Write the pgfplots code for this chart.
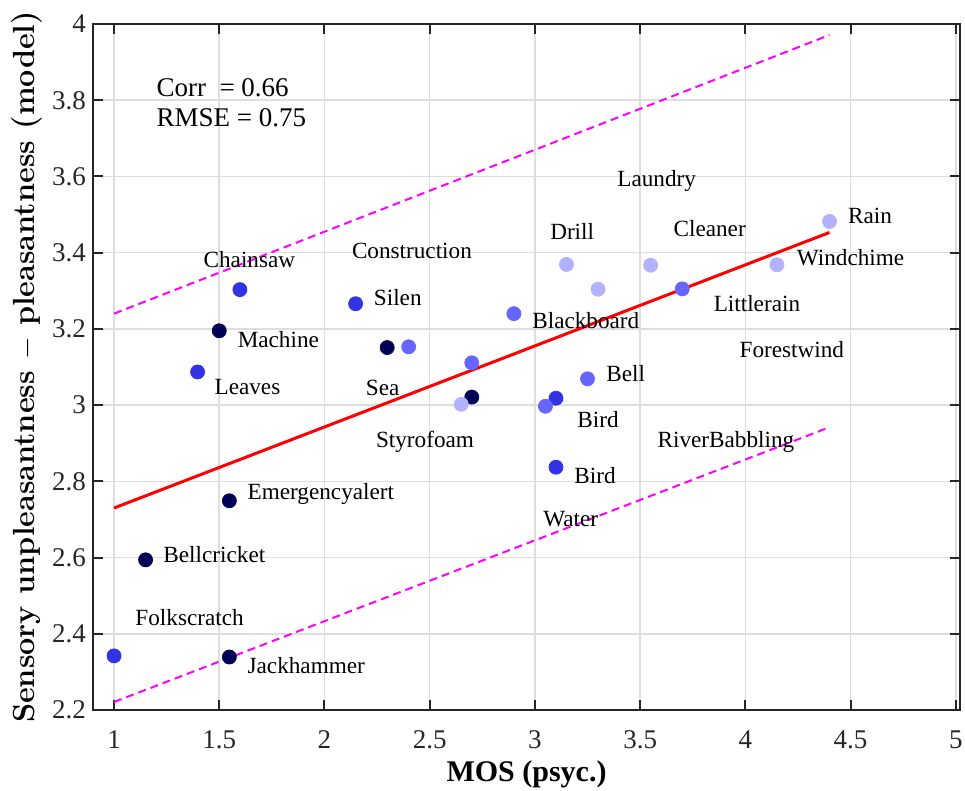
\documentclass[border=0pt]{standalone}
\usepackage{fontspec}
\setmainfont{Liberation Serif}
\newfontfamily\lmfont{Latin Modern Roman}
\usepackage{pgfplots}
\pgfplotsset{compat=1.18}
\definecolor{navy}{RGB}{0,0,85}
\definecolor{midblue}{RGB}{51,51,230}
\definecolor{ltblue}{RGB}{102,102,255}
\definecolor{paleblue}{RGB}{178,178,255}
\definecolor{gridgray}{RGB}{222,222,222}
\definecolor{axgray}{RGB}{38,38,38}
\definecolor{magentaRGB}{RGB}{255,0,255}
\tikzset{lbl/.style={anchor=west, font=\fontsize{11.6}{13}\selectfont, inner sep=0pt}}
\begin{document}
\begin{tikzpicture}
\useasboundingbox (-46.5pt,-40.5pt) rectangle (436pt,355pt);
\begin{axis}[
    at={(0,0)}, anchor=south west,
    scale only axis,
    width=433.5pt, height=343pt,
    xmin=0.9, xmax=5.02, ymin=2.2, ymax=4,
    xtick={1,1.5,2,2.5,3,3.5,4,4.5,5},
    xticklabels={1,1.5,2,2.5,3,3.5,4,4.5,5},
    ytick={2.2,2.4,2.6,2.8,3,3.2,3.4,3.6,3.8,4},
    yticklabels={2.2,2.4,2.6,2.8,3,3.2,3.4,3.6,3.8,4},
    tick label style={font=\rmfamily\fontsize{13.5}{15}\selectfont, text=axgray},
    xticklabel style={yshift=-7pt},
    tick align=inside,
    major tick length=5pt,
    axis line style={axgray, line width=1pt},
    tick style={axgray, line width=1pt},
    grid=major,
    grid style={gridgray, line width=0.8pt},
    xlabel={\bfseries MOS (psyc.)},
    ylabel={\lmfont\bfseries Sensory unpleasantness $-$ pleasantness (model)},
    xlabel style={font=\fontsize{15}{17}\selectfont, yshift=1pt},
    ylabel style={font=\fontsize{15.3}{17}\selectfont, yshift=-2pt},
    every axis plot/.append style={only marks, mark=*, mark size=3.5pt},
    clip=false,
]
% regression line and bounds
\addplot[red, line width=1.5pt, no marks, sharp plot] coordinates {(1.0,2.730) (4.4,3.453)};
\addplot[magentaRGB, line width=1pt, dash pattern=on 4pt off 2.5pt, no marks, sharp plot] coordinates {(1.0,3.240) (4.4,3.971)};
\addplot[magentaRGB, line width=1pt, dash pattern=on 4pt off 2.5pt, no marks, sharp plot] coordinates {(1.0,2.221) (4.4,2.942)};
% points
\addplot[navy, mark options={fill=navy, draw=navy}] coordinates {
    (1.15,2.594) (1.548,2.749) (1.548,2.339) (1.5,3.195) (2.298,3.151) (2.70,3.021)
};
\addplot[midblue, mark options={fill=midblue, draw=midblue}] coordinates {
    (1.0,2.342) (1.397,3.087) (1.598,3.303) (2.148,3.266) (3.10,3.018) (3.10,2.837)
};
\addplot[ltblue, mark options={fill=ltblue, draw=ltblue}] coordinates {
    (2.4,3.153) (2.70,3.111) (2.9,3.240) (3.05,2.997) (3.25,3.069) (3.70,3.305)
};
\addplot[paleblue, mark options={fill=paleblue, draw=paleblue}] coordinates {
    (2.65,3.002) (3.15,3.369) (3.30,3.304) (3.55,3.367) (4.15,3.368) (4.40,3.482)
};
% sound labels
\node[lbl] at (axis cs:1.424,3.382) {Chainsaw};
\node[lbl] at (axis cs:2.129,3.405) {Construction};
\node[lbl] at (axis cs:2.233,3.282) {Silen};
\node[lbl] at (axis cs:1.586,3.171) {Machine};
\node[lbl] at (axis cs:1.476,3.047) {Leaves};
\node[lbl] at (axis cs:2.195,3.045) {Sea};
\node[lbl] at (axis cs:2.243,2.903) {Styrofoam};
\node[lbl] at (axis cs:3.390,3.589) {Laundry};
\node[lbl] at (axis cs:3.071,3.455) {Drill};
\node[lbl] at (axis cs:3.657,3.463) {Cleaner};
\node[lbl] at (axis cs:2.986,3.221) {Blackboard};
\node[lbl] at (axis cs:3.848,3.266) {Littlerain};
\node[lbl] at (axis cs:3.971,3.145) {Forestwind};
\node[lbl] at (axis cs:3.338,3.084) {Bell};
\node[lbl] at (axis cs:3.200,2.963) {Bird};
\node[lbl] at (axis cs:3.186,2.816) {Bird};
\node[lbl] at (axis cs:3.581,2.903) {RiverBabbling};
\node[lbl] at (axis cs:4.486,3.497) {Rain};
\node[lbl] at (axis cs:4.243,3.387) {Windchime};
\node[lbl] at (axis cs:3.038,2.700) {Water};
\node[lbl] at (axis cs:1.633,2.766) {Emergencyalert};
\node[lbl] at (axis cs:1.233,2.608) {Bellcricket};
\node[lbl] at (axis cs:1.100,2.442) {Folkscratch};
\node[lbl] at (axis cs:1.633,2.316) {Jackhammer};
% statistics
\node[anchor=west, font=\fontsize{13.5}{15}\selectfont, inner sep=0pt] at (axis cs:1.2,3.832) {Corr\ \ = 0.66};
\node[anchor=west, font=\fontsize{13.5}{15}\selectfont, inner sep=0pt] at (axis cs:1.2,3.753) {RMSE = 0.75};
\end{axis}
\end{tikzpicture}
\end{document}
